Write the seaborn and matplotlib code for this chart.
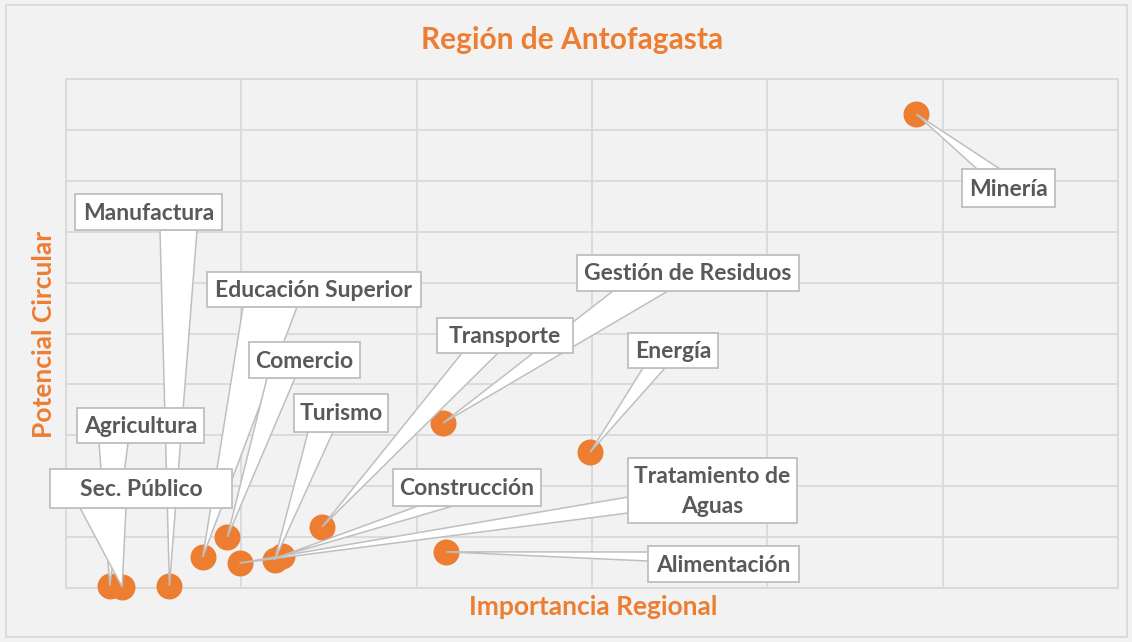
import matplotlib
matplotlib.use("Agg")
import matplotlib.pyplot as plt
import seaborn as sns
import pandas as pd
from matplotlib.patches import Polygon, Rectangle

# ---------------- data ----------------
sectors = ["Minería", "Energía", "Gestión de Residuos", "Transporte", "Alimentación",
           "Tratamiento de\nAguas", "Construcción", "Turismo", "Manufactura",
           "Agricultura", "Educación Superior", "Comercio", "Sec. Público"]
importancia = [4.85, 2.99, 2.15, 1.46, 2.17, 0.99, 1.23, 1.19, 0.59, 0.25, 0.78, 0.92, 0.32]
potencial = [9.31, 2.67, 3.24, 1.20, 0.71, 0.49, 0.63, 0.55, 0.04, 0.04, 0.61, 1.00, 0.02]

title = "Región de Antofagasta"
xlabel = "Importancia Regional"
ylabel = "Potencial Circular"

# ---------------- layout (pixel positions of callout boxes) ----------------
W, H = 1132, 642
# box: x0, y0, x1, y1 ; base: two points where the pointer leaves the box
label_boxes = {
    "Minería": ((962, 169, 1055, 207), ((977, 169), (1000, 169))),
    "Energía": ((628, 333, 718, 368), ((643, 368), (665, 368))),
    "Gestión de Residuos": ((577, 255, 799, 291), ((613, 291), (668, 291))),
    "Transporte": ((437, 318, 573, 353), ((462, 353), (498, 353))),
    "Alimentación": ((648, 546, 799, 582), ((648, 552), (648, 561))),
    "Tratamiento de\nAguas": ((628, 458, 797, 523), ((628, 497), (628, 513))),
    "Construcción": ((393, 469, 541, 506), ((418, 506), (453, 506))),
    "Turismo": ((294, 394, 388, 432), ((308, 432), (333, 432))),
    "Manufactura": ((75, 194, 222, 230), ((160, 230), (197, 230))),
    "Agricultura": ((77, 408, 204, 443), ((99, 443), (128, 443))),
    "Educación Superior": ((207, 272, 421, 307), ((243, 307), (297, 307))),
    "Comercio": ((249, 342, 360, 378), ((267, 378), (295, 378))),
    "Sec. Público": ((50, 469, 232, 508), ((80, 508), (126, 508))),
}

ORANGE = "#ED7D31"
BG = "#F2F2F2"
GRID = "#D9D9D9"
TEXT = "#595959"
EDGE = "#BFBFBF"

sns.set_theme(style="white")
plt.rcParams["font.family"] = ["Lato", "DejaVu Sans"]

fig = plt.figure(figsize=(W / 100, H / 100), dpi=100)
fig.patch.set_facecolor(BG)

def px2fig(px, py):
    return (px / W, 1 - py / H)

ax = fig.add_axes([66 / W, 1 - 588 / H, (1118 - 66) / W, (588 - 79) / H])
ax.set_facecolor(BG)

df = pd.DataFrame({"sector": sectors, "importancia": importancia, "potencial": potencial})
sns.scatterplot(data=df, x="importancia", y="potencial", ax=ax, color=ORANGE,
                s=350, linewidth=0, zorder=3)
for coll in ax.collections:
    coll.set_clip_on(False)

ax.set_xlim(0, 6)
ax.set_ylim(0, 10)
ax.set_xticks(range(7))
ax.set_yticks(range(11))
ax.tick_params(length=0, labelbottom=False, labelleft=False)
ax.grid(True, color=GRID, lw=1.3)
ax.set_axisbelow(True)
for sp in ax.spines.values():
    sp.set_color(GRID)
    sp.set_linewidth(1.3)
ax.set_xlabel("")
ax.set_ylabel("")

# outer chart border
fig.patches.append(Rectangle(px2fig(6, 637), (1127 - 6) / W, (637 - 5) / H,
                             transform=fig.transFigure, fill=False,
                             edgecolor=GRID, lw=1.3, zorder=0))

fig.text(*px2fig(572, 40), title, ha="center", va="center", color=ORANGE,
         fontsize=21.5, fontweight="bold")
fig.text(*px2fig(593, 607), xlabel, ha="center", va="center", color=ORANGE,
         fontsize=19, fontweight="bold")
fig.text(*px2fig(44, 334), ylabel, ha="center", va="center", color=ORANGE,
         fontsize=19, fontweight="bold", rotation=90)

# callouts
to_fig = fig.transFigure.inverted()
for i, (name, x, y) in enumerate(zip(sectors, importancia, potencial)):
    (x0, y0, x1, y1), (b1, b2) = label_boxes[name]
    tip = to_fig.transform(ax.transData.transform((x, y)))
    z = 4 + 3 * i
    wedge = Polygon([px2fig(*b1), tip, px2fig(*b2)], closed=True,
                    transform=fig.transFigure, facecolor="white", edgecolor=EDGE,
                    lw=1.1, zorder=z, clip_on=False)
    ax.add_patch(wedge)
    box = Rectangle(px2fig(x0, y1), (x1 - x0) / W, (y1 - y0) / H,
                    transform=fig.transFigure, facecolor="white", edgecolor=EDGE,
                    lw=1.3, zorder=z + 1, clip_on=False)
    ax.add_patch(box)
    ax.text(*px2fig((x0 + x1) / 2, (y0 + y1) / 2 + 1), name, transform=fig.transFigure,
            ha="center", va="center", color=TEXT, fontsize=16.5, fontweight="bold",
            linespacing=1.55, zorder=z + 2)

fig.savefig("out.png", dpi=100, facecolor=BG)
